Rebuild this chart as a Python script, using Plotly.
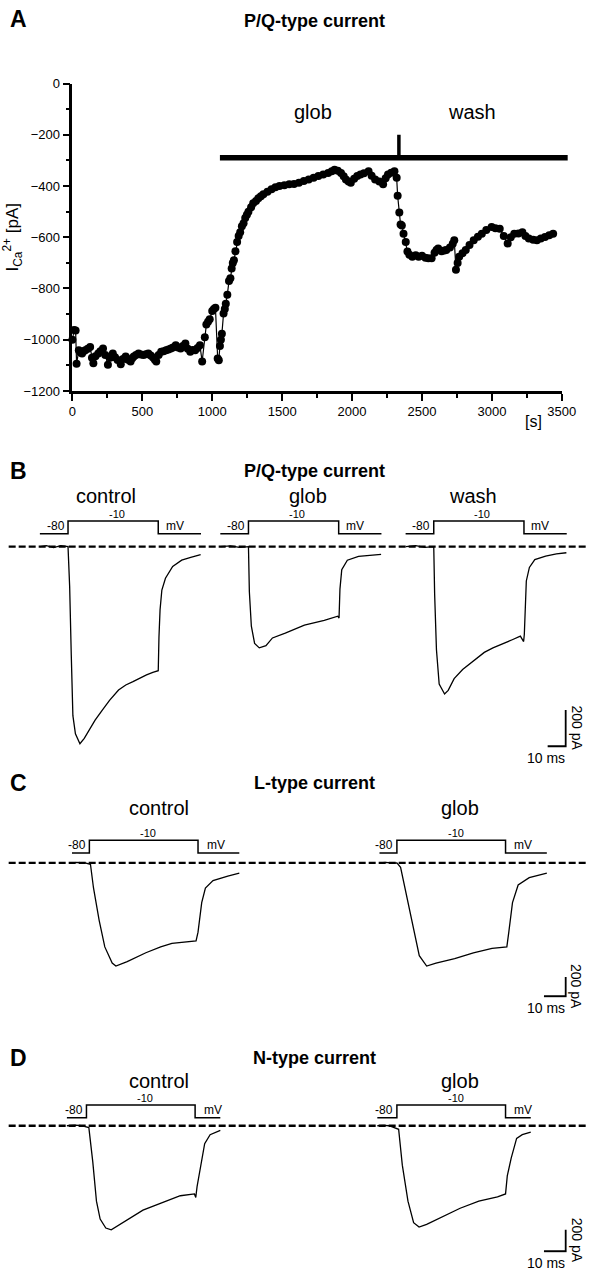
import plotly.graph_objects as go

W, H = 602, 1280
FONT = "Liberation Sans, Arial, sans-serif"

# ---- panel A: time course of P/Q current ----
time_s = [0, 12, 23, 30, 46, 58, 69, 80, 92, 110, 127, 140, 150, 165, 185, 200, 219, 235, 254, 270,
          289, 305, 323, 346, 362, 381, 398, 416, 428, 439, 455, 473, 490, 508, 525, 543, 560, 577, 590, 600,
          617, 635, 652, 670, 687, 704, 720, 739, 756, 774, 790, 808, 825, 843, 860, 878, 895, 912, 928, 947,
          958, 970, 982, 1000, 1012, 1023, 1039, 1047, 1055, 1062, 1069, 1081, 1090, 1097, 1108, 1120, 1130, 1139, 1147, 1155,
          1166, 1178, 1189, 1200, 1212, 1224, 1236, 1248, 1259, 1278, 1293, 1313, 1330, 1348, 1366, 1395, 1424, 1452, 1481, 1516,
          1551, 1585, 1620, 1655, 1690, 1725, 1759, 1794, 1829, 1855, 1875, 1898, 1921, 1940, 1956, 1975, 1991, 2015, 2037, 2060,
          2085, 2118, 2140, 2165, 2195, 2222, 2240, 2257, 2280, 2303, 2319, 2326, 2338, 2347, 2356, 2368, 2384, 2396, 2410, 2431,
          2455, 2476, 2500, 2525, 2546, 2569, 2590, 2604, 2616, 2640, 2660, 2674, 2700, 2720, 2731, 2743, 2755, 2766, 2790, 2813,
          2840, 2870, 2900, 2928, 2960, 2998, 3025, 3056, 3085, 3113, 3135, 3160, 3190, 3218, 3240, 3264, 3295, 3322, 3350, 3380,
          3410, 3438]
ica_pA = [-1000, -962, -964, -1094, -1041, -1050, -1054, -1045, -1041, -1035, -1028, -1070, -1092, -1065, -1054, -1045, -1034, -1060, -1098, -1070,
          -1054, -1068, -1079, -1096, -1075, -1066, -1078, -1085, -1072, -1066, -1060, -1054, -1058, -1060, -1057, -1054, -1062, -1069, -1078, -1085,
          -1060, -1047, -1045, -1041, -1038, -1034, -1030, -1022, -1030, -1034, -1025, -1015, -1035, -1047, -1040, -1041, -1032, -1022, -1085, -990,
          -941, -930, -920, -888, -880, -875, -1073, -1080, -1025, -1000, -977, -898, -880, -860, -824, -771, -760, -722, -700, -690,
          -655, -618, -595, -580, -557, -545, -525, -512, -500, -483, -467, -458, -448, -440, -432, -422, -413, -405, -400, -397,
          -393, -392, -387, -380, -374, -368, -361, -355, -349, -342, -336, -340, -349, -362, -374, -382, -387, -372, -361, -355,
          -350, -342, -360, -374, -382, -393, -370, -355, -348, -342, -368, -438, -503, -550, -554, -586, -618, -656, -668, -676,
          -670, -676, -672, -680, -682, -682, -660, -650, -644, -655, -652, -650, -640, -625, -612, -727, -700, -676, -662, -650,
          -630, -612, -598, -586, -572, -560, -565, -567, -595, -624, -600, -586, -585, -580, -595, -605, -610, -612, -605, -599,
          -592, -586]
glob_start_s = 1055
wash_start_s = 2335
app_bar_pA = -290

# ---- voltage protocol (mV) ----
step_v = [-80, -80, -10, -10, -80, -80]

# ---- panel B: P/Q-type current traces (ms, pA) ----
pq_ctrl_t = [-15.5, -12, -8, -4, 0, 0.9, 1.8, 2.7, 4.1, 6.6, 9, 12, 15, 18.8, 23, 28, 32, 36, 40, 43.5,
             47, 50, 50.4, 51, 52, 54, 58, 63, 68, 73.5]
pq_ctrl_i = [0, 5, -5, 5, 0, -220, -600, -935, -1035, -1090, -1060, -1010, -960, -907, -850, -793, -765, -747, -725, -709,
             -695, -686, -500, -350, -240, -175, -110, -75, -60, -45]
pq_glob_t = [-15.5, -10, -5, 0, 0.5, 1.6, 3.4, 6, 9.7, 13.3, 20.4, 31, 42, 49.5, 50.2, 50.7, 51.7, 54.8, 61, 73.5]
pq_glob_i = [0, 4, -4, 0, -250, -440, -535, -560, -548, -505, -478, -434, -408, -385, -395, -235, -128, -75, -54, -43]
pq_wash_t = [-15.5, -10, -5, 0, 0.5, 1.5, 3, 6, 8, 11.3, 16, 22, 28, 32.8, 38, 43.5, 48, 49.8, 50.2, 50.6,
             51.3, 53, 56, 62, 68, 73.5]
pq_wash_i = [0, 5, -4, 0, -265, -570, -760, -815, -795, -730, -680, -630, -585, -560, -540, -515, -495, -525, -485, -320,
             -190, -115, -72, -52, -40, -34]

# ---- panel C: L-type current traces ----
l_ctrl_t = [-8, -5.8, -2, 0.5, 1.9, 4.5, 7.1, 10.5, 12.2, 17.4, 26, 32.8, 38, 43, 49.1, 50, 51.7, 53.4, 56.9, 63.7, 69]
l_ctrl_i = [0, 5, 0, -15, -262, -600, -877, -1046, -1077, -1031, -938, -877, -840, -831, -815, -723, -415, -262, -185, -138, -108]
l_glob_t = [-8, -5, -2, 0, 1.7, 5.1, 7.7, 10.3, 13.7, 18, 26.6, 35.2, 43.8, 50.6, 51.5, 53.2, 55.8, 60.9, 69]
l_glob_i = [0, 5, -3, 0, -46, -415, -723, -969, -1077, -1046, -1000, -938, -892, -877, -723, -415, -231, -154, -108]

# ---- panel D: N-type current traces ----
n_ctrl_t = [-9, -5, -2.3, 1.1, 2.9, 4.6, 6.3, 8.9, 11.4, 14, 19.2, 26, 34.6, 43.2, 49.7, 50.3, 50.9, 52.7, 54.4, 56.9, 61.6]
n_ctrl_i = [0, 5, 0, -17, -333, -700, -866, -950, -966, -933, -866, -783, -716, -650, -633, -666, -566, -366, -166, -83, -43]
n_glob_t = [-9, -6, -3.6, 0.8, 2.5, 5.1, 7.7, 10.2, 13.7, 20.5, 29.1, 37.7, 46.3, 50, 50.8, 52.6, 55.1, 57.7, 61.6]
n_glob_i = [0, 4, 0, -33, -366, -700, -900, -940, -916, -850, -766, -700, -660, -633, -466, -300, -117, -83, -60]

fig = go.Figure()
layout = {}
count = [0]


def px_x(p):
    return p / W


def px_y(p):
    return 1 - p / H


def add_axes(xr, x_map, yr, y_map):
    # x_map/y_map: (value, pixel, pixels per unit); y pixels grow downward
    count[0] += 1
    k = count[0]
    s = "" if k == 1 else str(k)
    xv, xp, xs = x_map
    yv, yp, ys = y_map
    xd = [xp + (xr[0] - xv) * xs, xp + (xr[1] - xv) * xs]
    yd = [yp - (yr[0] - yv) * ys, yp - (yr[1] - yv) * ys]
    layout["xaxis" + s] = dict(domain=[px_x(xd[0]), px_x(xd[1])], range=xr, anchor="y" + s, visible=False)
    layout["yaxis" + s] = dict(domain=[px_y(yd[0]), px_y(yd[1])], range=yr, anchor="x" + s, visible=False)
    return "x" + s, "y" + s


annotations = []
shapes = []


def text(x, y, t, size, bold=False, **kw):
    if bold:
        t = "<b>" + t + "</b>"
    kw.setdefault("xanchor", "center")
    kw.setdefault("yanchor", "middle")
    annotations.append(dict(x=x, y=y, text=t, showarrow=False,
                            font=dict(size=size, color="black", family=FONT), **kw))


def paper_text(xp, yp, t, size, bold=False):
    text(px_x(xp), px_y(yp), t, size, bold, xref="paper", yref="paper")


# ---------------- panel A ----------------
a_xrange = [0, 3500]
a_yrange = [-1200, 0]
xa, ya = add_axes(a_xrange, (0, 70.5, 504.5 / 3500), a_yrange, (0, 77.5, 311 / 1200))
axis_style = dict(visible=True, showline=True, linewidth=2.5, linecolor="black", ticks="outside", ticklen=7,
                  tickwidth=2.2, tickcolor="black", showgrid=False, zeroline=False,
                  tickfont=dict(size=13, family=FONT, color="black"))
layout["xaxis"].update(axis_style, dtick=500, tick0=0,
                       minor=dict(ticks="outside", ticklen=4, tickwidth=1.8, dtick=250, tickcolor="black"))
layout["yaxis"].update(axis_style, dtick=200, tick0=0,
                       minor=dict(ticks="outside", ticklen=4, tickwidth=1.8, dtick=100, tickcolor="black"),
                       title=dict(text="I<sub>Ca</sub><sup>2+</sup> [pA]",
                                  font=dict(size=17, family=FONT, color="black"), standoff=3))
fig.add_trace(go.Scatter(x=time_s, y=ica_pA, xaxis=xa, yaxis=ya, mode="lines+markers",
                         line=dict(color="black", width=1.2), marker=dict(color="black", size=8),
                         cliponaxis=False, showlegend=False))
# application bar (in axis-domain units so it may run past the last tick, as in the original)
bar_y = (app_bar_pA - a_yrange[0]) / (a_yrange[1] - a_yrange[0])
shapes.append(dict(type="line", xref="x domain", yref="y domain", x0=glob_start_s / a_xrange[1], x1=1.012,
                   y0=bar_y, y1=bar_y, line=dict(color="black", width=5.5)))
shapes.append(dict(type="line", xref=xa, yref=ya, x0=wash_start_s, x1=wash_start_s, y0=-200, y1=app_bar_pA,
                   line=dict(color="black", width=3.5)))
text(1720, -110, "glob", 20, xref=xa, yref=ya)
text(2855, -110, "wash", 20, xref=xa, yref=ya)
text(3300, -1200, "[s]", 16, xref=xa, yref=ya, yshift=-31)
paper_text(15, 12, "A", 23, bold=True)
paper_text(320, 14, "P/Q-type current", 18, bold=True)

# ---------------- panels B, C, D ----------------
rows = [
    dict(letter="B", title="P/Q-type current", top=470, label_y=495, high=520, low=533, base=546,
         ms=1.86, pa=0.183, imin=-1150, pre=-15.6, post=73.7, bar=(579, 748),
         traces=[("control", 66, 105, pq_ctrl_t, pq_ctrl_i), ("glob", 252, 313, pq_glob_t, pq_glob_i),
                 ("wash", 443, 483, pq_wash_t, pq_wash_i)]),
    dict(letter="C", title="L-type current", top=785, label_y=810, high=843, low=856, base=866,
         ms=2.24, pa=0.097, imin=-1150, pre=-8, post=69, bar=(579, 1001),
         traces=[("control", 88, 160, l_ctrl_t, l_ctrl_i), ("glob", 405, 470, l_glob_t, l_glob_i)]),
    dict(letter="D", title="N-type current", top=1063, label_y=1087, high=1111, low=1124, base=1132,
         ms=2.24, pa=0.109, imin=-1050, pre=-9, post=61.6, bar=(579, 1259),
         traces=[("control", 85, 160, n_ctrl_t, n_ctrl_i), ("glob", 405, 470, n_glob_t, n_glob_i)]),
]

for row in rows:
    paper_text(15, row["top"], row["letter"], 23, bold=True)
    paper_text(320, row["top"], row["title"], 18, bold=True)
    first_y = None
    mv_scale = (row["low"] - row["high"]) / 70
    for name, t0, lab_x, tt, ii in row["traces"]:
        xr = [row["pre"] - 1, row["post"] + 1]
        paper_text(lab_x, row["label_y"], name, 20)
        # current trace
        cx, cy = add_axes(xr, (0, t0, row["ms"]), [row["imin"], 60], (0, row["base"], row["pa"]))
        if first_y is None:
            first_y = cy
        fig.add_trace(go.Scatter(x=tt, y=ii, xaxis=cx, yaxis=cy, mode="lines",
                                 line=dict(color="black", width=1.3), showlegend=False))
        # voltage protocol
        vx, vy = add_axes(xr, (0, t0, row["ms"]), [-90, 0], (-80, row["low"], mv_scale))
        step_t = [row["pre"], 0, 0, 50, 50, row["post"]]
        fig.add_trace(go.Scatter(x=step_t, y=step_v, xaxis=vx, yaxis=vy, mode="lines",
                                 line=dict(color="black", width=1.5), showlegend=False))
        text(-0.8, -80, "-80", 12, xref=vx, yref=vy, xanchor="right", yanchor="bottom", yshift=-1)
        text(27, -10, "-10", 11, xref=vx, yref=vy, yanchor="bottom", yshift=-1)
        text(53, -80, "mV", 12, xref=vx, yref=vy, xanchor="left", yanchor="bottom", yshift=-1)
    # dashed zero-current line across the row
    shapes.append(dict(type="line", xref="paper", yref=first_y, x0=0.008, x1=1, y0=0, y1=0,
                       line=dict(color="black", width=2.4, dash="7px,3px")))
    # scale bar: 10 ms / 200 pA
    bx, by = row["bar"]
    sx, sy = add_axes([-2, 12], (10, bx, row["ms"]), [-15, 215], (0, by, row["pa"]))
    fig.add_trace(go.Scatter(x=[0, 10, 10], y=[0, 0, 200], xaxis=sx, yaxis=sy, mode="lines",
                             line=dict(color="black", width=1.8), showlegend=False))
    text(10.8, 0, "10 ms", 14, xref=sx, yref=sy, xanchor="right", yanchor="top", yshift=-2)
    text(10, 100, "200 pA", 14, xref=sx, yref=sy, textangle=90, xshift=11)

fig.update_layout(**layout)
fig.update_layout(width=W, height=H, margin=dict(l=0, r=0, t=0, b=0), plot_bgcolor="white",
                  paper_bgcolor="white", showlegend=False, annotations=annotations, shapes=shapes,
                  font=dict(family=FONT, color="black"))
fig.write_html("out.html", config={"displayModeBar": False},
               post_script="document.body.style.margin='0px';")
